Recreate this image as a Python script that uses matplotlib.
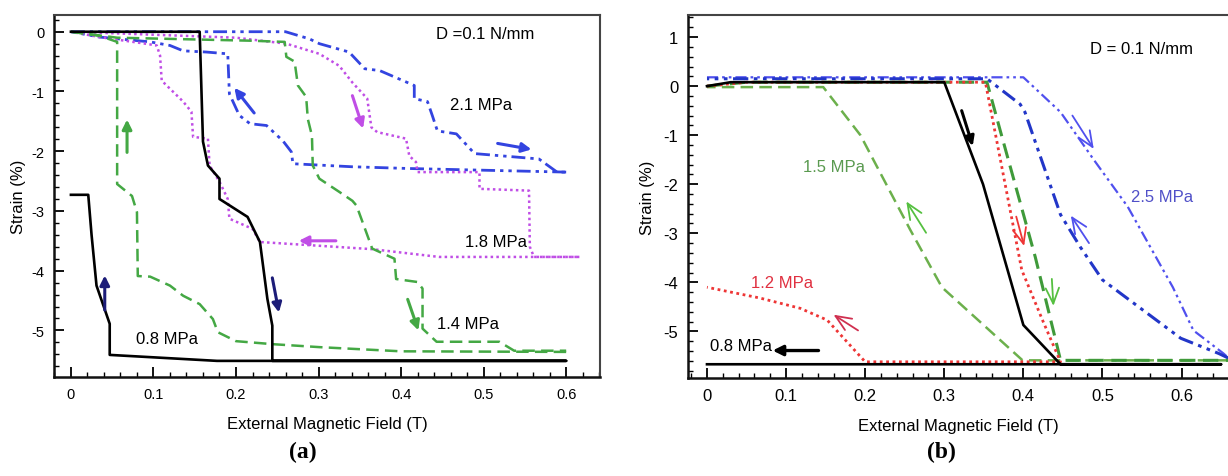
import matplotlib
matplotlib.use("Agg")
import matplotlib.pyplot as plt
from matplotlib.ticker import MultipleLocator

plt.rcParams['font.family'] = ['Liberation Sans', 'DejaVu Sans']

# ---------------- Panel (a) data ----------------
a08_x = [0, 0.156, 0.160, 0.166, 0.180, 0.180, 0.214, 0.229, 0.238, 0.244, 0.244, 0.60,
         0.177, 0.047, 0.047, 0.031, 0.025, 0.021, 0.0]
a08_y = [0, 0, -1.84, -2.24, -2.46, -2.80, -3.10, -3.52, -4.47, -4.92, -5.51, -5.51,
         -5.51, -5.41, -4.89, -4.25, -3.40, -2.73, -2.73]

a14_load_x = [0, 0.056, 0.217, 0.259, 0.261, 0.271, 0.275, 0.285, 0.287, 0.292, 0.293, 0.301,
              0.325, 0.341, 0.346, 0.365, 0.392, 0.394, 0.420, 0.426, 0.426, 0.443, 0.519,
              0.537, 0.60]
a14_load_y = [0, -0.10, -0.15, -0.17, -0.42, -0.50, -0.90, -1.09, -1.46, -1.74, -2.24, -2.46,
              -2.68, -2.83, -2.91, -3.63, -3.80, -4.14, -4.19, -4.30, -4.97, -5.19, -5.19,
              -5.34, -5.34]
a14_unld_x = [0.60, 0.40, 0.301, 0.244, 0.200, 0.178, 0.172, 0.156, 0.136, 0.120, 0.096, 0.081,
              0.080, 0.074, 0.056, 0.056, 0.035, 0.0]
a14_unld_y = [-5.36, -5.35, -5.28, -5.23, -5.18, -5.03, -4.81, -4.56, -4.42, -4.25, -4.10, -4.09,
              -3.02, -2.75, -2.55, -0.17, -0.07, 0.0]

a18_load_x = [0, 0.20, 0.261, 0.301, 0.325, 0.341, 0.359, 0.364, 0.371, 0.406, 0.410, 0.418,
              0.420, 0.495, 0.495, 0.555, 0.556, 0.561, 0.616]
a18_load_y = [0, -0.10, -0.20, -0.37, -0.57, -0.85, -1.12, -1.60, -1.68, -1.79, -2.08, -2.18,
              -2.35, -2.35, -2.63, -2.66, -3.60, -3.77, -3.77]
a18_unld_x = [0.616, 0.446, 0.365, 0.229, 0.220, 0.192, 0.190, 0.180, 0.168, 0.166, 0.148,
              0.146, 0.136, 0.116, 0.110, 0.108, 0.104, 0.090, 0.035, 0.0]
a18_unld_y = [-3.77, -3.77, -3.64, -3.52, -3.30, -3.13, -2.80, -2.51, -2.24, -1.79, -1.76,
              -1.34, -1.17, -0.90, -0.82, -0.40, -0.23, -0.20, -0.09, 0.0]

a21_load_x = [0, 0.26, 0.289, 0.301, 0.337, 0.356, 0.374, 0.416, 0.416, 0.432, 0.438, 0.444,
              0.467, 0.489, 0.567, 0.589, 0.60]
a21_load_y = [0, 0, -0.12, -0.20, -0.34, -0.62, -0.65, -0.90, -1.12, -1.17, -1.41, -1.66,
              -1.71, -2.04, -2.13, -2.35, -2.35]
a21_unld_x = [0.60, 0.41, 0.340, 0.269, 0.267, 0.257, 0.237, 0.217, 0.204, 0.192, 0.190,
              0.164, 0.136, 0.120, 0.096, 0.035, 0.0]
a21_unld_y = [-2.35, -2.29, -2.26, -2.21, -2.01, -1.83, -1.57, -1.54, -1.40, -1.04, -0.37,
              -0.34, -0.32, -0.23, -0.17, -0.09, 0.0]

# ---------------- Panel (b) data ----------------
b08_x = [0, 0.03, 0.30, 0.349, 0.40, 0.447, 0.65, 0.0]
b08_y = [0, 0.08, 0.08, -2.00, -4.87, -5.67, -5.67, -5.67]

b12_x = [0, 0.05, 0.352, 0.398, 0.425, 0.447, 0.20, 0.152, 0.118, 0.067, 0.0]
b12_y = [0, 0.08, 0.08, -3.75, -4.80, -5.62, -5.62, -4.77, -4.53, -4.32, -4.10]

b15_load_x = [0, 0.05, 0.354, 0.371, 0.415, 0.443, 0.447, 0.66]
b15_load_y = [0, 0.08, 0.08, -0.92, -3.48, -5.32, -5.59, -5.59]
b15_unld_x = [0.66, 0.399, 0.297, 0.257, 0.194, 0.147, 0.0]
b15_unld_y = [-5.59, -5.59, -4.10, -2.93, -1.00, -0.02, -0.02]

b25_load_x = [0, 0.40, 0.447, 0.489, 0.532, 0.589, 0.615, 0.653, 0.66]
b25_load_y = [0.18, 0.18, -0.53, -1.50, -2.46, -4.10, -4.98, -5.45, -5.55]
b25_unld_x = [0.66, 0.647, 0.599, 0.50, 0.472, 0.447, 0.402, 0.396, 0.354, 0.0]
b25_unld_y = [-5.55, -5.45, -5.14, -3.95, -3.28, -2.62, -0.53, -0.37, 0.15, 0.15]

# ---------------- styles ----------------
BLUE = '#3344e0'
MAG = '#c04ee6'
GRN = '#44a844'
NAVY = '#1c1c78'
DASH = (0, (5, 2.5))
DOT = (0, (1, 1.3))
DDOT = (0, (5, 1.8, 1.2, 1.8, 1.2, 1.8))

fig = plt.figure(figsize=(12.28, 4.77), dpi=100)
axA = fig.add_axes([54/1228, 99/477, 546/1228, 362/477])
axB = fig.add_axes([688/1228, 98/477, 541/1228, 363/477])


def style_axes(ax, lsize, ylpad):
    ax.tick_params(which='both', direction='in', top=False, right=False,
                   labelsize=lsize, pad=7)
    ax.tick_params(which='major', length=7, width=1.3)
    ax.tick_params(which='minor', length=3.5, width=1.0)
    for s in ['left', 'bottom']:
        ax.spines[s].set_linewidth(1.8)
        ax.spines[s].set_color('#111111')
    for s in ['top', 'right']:
        ax.spines[s].set_linewidth(1.5)
        ax.spines[s].set_color('#444444')
    ax.xaxis.set_major_locator(MultipleLocator(0.1))
    ax.xaxis.set_minor_locator(MultipleLocator(0.02))
    ax.yaxis.set_major_locator(MultipleLocator(1))
    ax.yaxis.set_minor_locator(MultipleLocator(0.2))
    ax.set_xlabel('External Magnetic Field (T)', fontsize=12, labelpad=11)
    ax.set_ylabel('Strain (%)', fontsize=12, labelpad=ylpad)


def fmt(v, pos=None):
    if abs(v) < 1e-9:
        return '0'
    return ('%g' % v)


# ---------------- Panel (a) ----------------
ax = axA
ax.plot(a21_load_x, a21_load_y, color=BLUE, lw=2.0, ls=DDOT)
ax.plot(a21_unld_x, a21_unld_y, color=BLUE, lw=2.0, ls=DDOT)
ax.plot(a18_load_x, a18_load_y, color=MAG, lw=1.8, ls=DOT)
ax.plot(a18_unld_x, a18_unld_y, color=MAG, lw=1.8, ls=DOT)
ax.plot(a14_load_x, a14_load_y, color=GRN, lw=1.8, ls=DASH)
ax.plot(a14_unld_x, a14_unld_y, color=GRN, lw=1.8, ls=DASH)
ax.plot(a08_x, a08_y, color='black', lw=1.9)

ax.set_xlim(-0.0205, 0.641)
ax.set_ylim(-5.78, 0.28)
style_axes(ax, 10.5, 4)
ax.xaxis.set_major_formatter(plt.FuncFormatter(fmt))
ax.yaxis.set_major_formatter(plt.FuncFormatter(fmt))


def arr(ax, x0, y0, x1, y1, c, lw=2.2, ms=14):
    ax.annotate('', xy=(x1, y1), xytext=(x0, y0),
                arrowprops=dict(arrowstyle='-|>', color=c, lw=lw,
                                mutation_scale=ms, shrinkA=0, shrinkB=0))


arr(ax, 0.041, -4.66, 0.041, -4.08, NAVY)
arr(ax, 0.244, -4.12, 0.252, -4.70, NAVY)
arr(ax, 0.068, -2.02, 0.068, -1.47, GRN)
arr(ax, 0.408, -4.48, 0.421, -5.00, GRN)
arr(ax, 0.341, -1.07, 0.354, -1.62, MAG)
arr(ax, 0.321, -3.50, 0.276, -3.50, MAG)
arr(ax, 0.222, -1.36, 0.198, -0.94, BLUE)
arr(ax, 0.517, -1.87, 0.558, -1.97, BLUE)

ax.text(0.502, -0.03, 'D =0.1 N/mm', fontsize=12, ha='center', va='center')
ax.text(0.497, -1.22, '2.1 MPa', fontsize=12, ha='center', va='center')
ax.text(0.515, -3.52, '1.8 MPa', fontsize=12, ha='center', va='center')
ax.text(0.481, -4.89, '1.4 MPa', fontsize=12, ha='center', va='center')
ax.text(0.117, -5.14, '0.8 MPa', fontsize=12, ha='center', va='center')

# ---------------- Panel (b) ----------------
ax = axB
BL1 = '#5050ee'
BL2 = '#2236c8'
RED = '#ee3535'
G1 = '#3f9a3a'
G2 = '#6cb04c'
ax.plot(b25_load_x, b25_load_y, color=BL1, lw=1.6, ls=DDOT)
ax.plot(b25_unld_x, b25_unld_y, color=BL2, lw=2.2, ls=DDOT)
ax.plot(b15_unld_x, b15_unld_y, color=G2, lw=1.8, ls=DASH)
ax.plot(b15_load_x, b15_load_y, color=G1, lw=2.2, ls=DASH)
ax.plot(b12_x, b12_y, color=RED, lw=2.0, ls=DOT)
ax.plot(b08_x, b08_y, color='black', lw=1.9)

ax.set_xlim(-0.024, 0.66)
ax.set_ylim(-5.95, 1.45)
style_axes(ax, 12, 6)
ax.spines['right'].set_visible(False)
ax.xaxis.set_major_formatter(plt.FuncFormatter(fmt))
ax.yaxis.set_major_formatter(plt.FuncFormatter(fmt))


def harr(ax, x0, y0, x1, y1, c):
    ax.annotate('', xy=(x1, y1), xytext=(x0, y0),
                arrowprops=dict(arrowstyle='->,head_length=0.7,head_width=0.3',
                                color=c, lw=1.3, shrinkA=0, shrinkB=0,
                                mutation_scale=16))


arr(ax, 0.322, -0.50, 0.336, -1.22, 'black', lw=2.2, ms=14)
arr(ax, 0.141, -5.39, 0.083, -5.39, 'black', lw=2.4, ms=15)
harr(ax, 0.191, -4.98, 0.160, -4.66, '#d03050')
harr(ax, 0.391, -2.66, 0.401, -3.26, RED)
harr(ax, 0.277, -2.99, 0.252, -2.35, '#55c040')
harr(ax, 0.436, -3.93, 0.438, -4.48, '#55c040')
harr(ax, 0.462, -0.60, 0.489, -1.28, BL1)
harr(ax, 0.483, -3.20, 0.460, -2.64, BL1)

ax.text(0.55, 0.76, 'D = 0.1 N/mm', fontsize=12, ha='center', va='center')
ax.text(0.576, -2.25, '2.5 MPa', fontsize=12, ha='center', va='center', color='#5050c8')
ax.text(0.161, -1.64, '1.5 MPa', fontsize=12, ha='center', va='center', color='#5a9a50')
ax.text(0.095, -4.01, '1.2 MPa', fontsize=12, ha='center', va='center', color='#e03040')
ax.text(0.043, -5.28, '0.8 MPa', fontsize=12, ha='center', va='center', color='black')

fig.text(303/1228, 1 - 452/477, '(a)', fontsize=17, fontweight='bold',
         family='Liberation Serif', ha='center', va='center')
fig.text(941/1228, 1 - 452/477, '(b)', fontsize=17, fontweight='bold',
         family='Liberation Serif', ha='center', va='center')

fig.savefig('out.png', dpi=100)
